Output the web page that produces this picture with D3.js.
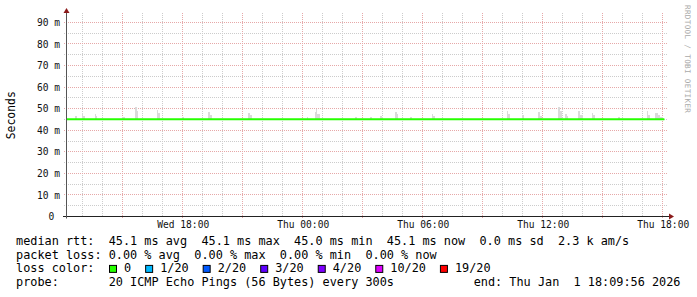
<!DOCTYPE html>
<html>
<head>
<meta charset="utf-8">
<script src="https://cdn.jsdelivr.net/npm/d3@7"></script>
<style>
  body { margin: 0; background: #fff; }
  svg { display: block; font-family: "DejaVu Sans Mono", monospace; }
  .pre { white-space: pre; }
</style>
</head>
<body>
<div id="vis"></div>
<script>
////////////////////////////////////////
//////////////// Data //////////////////
////////////////////////////////////////

const timeStart = "2025-12-31T12:09:56";
const timeEnd = "2026-01-01T18:09:56";

// median rtt (ms)
const medianTimes = ["2025-12-31T12:10", "2026-01-01T18:05"];
const medianValues = [45.1, 45.1];

// smoke spikes above the median: [from, to, top ms]
const smoke = [
  ["2025-12-31T12:37", "2025-12-31T12:44", 46.6],
  ["2025-12-31T12:57", "2025-12-31T13:00", 48.0],
  ["2025-12-31T13:00", "2025-12-31T13:06", 46.6],
  ["2025-12-31T13:37", "2025-12-31T13:41", 47.5],
  ["2025-12-31T13:41", "2025-12-31T13:44", 46.6],
  ["2025-12-31T14:58", "2025-12-31T15:06", 46.1],
  ["2025-12-31T15:36", "2025-12-31T15:42", 50.8],
  ["2025-12-31T15:42", "2025-12-31T15:46", 48.8],
  ["2025-12-31T16:43", "2025-12-31T16:47", 49.2],
  ["2025-12-31T16:47", "2025-12-31T16:52", 48.0],
  ["2025-12-31T17:57", "2025-12-31T18:04", 46.1],
  ["2025-12-31T19:16", "2025-12-31T19:21", 48.5],
  ["2025-12-31T19:21", "2025-12-31T19:28", 47.0],
  ["2025-12-31T21:15", "2025-12-31T21:22", 48.0],
  ["2025-12-31T21:22", "2025-12-31T21:28", 47.0],
  ["2026-01-01T00:12", "2026-01-01T00:15", 46.1],
  ["2026-01-01T00:37", "2026-01-01T00:44", 48.5],
  ["2026-01-01T00:41", "2026-01-01T00:43", 49.9],
  ["2026-01-01T00:44", "2026-01-01T00:52", 47.5],
  ["2026-01-01T02:37", "2026-01-01T02:42", 46.1],
  ["2026-01-01T03:22", "2026-01-01T03:28", 46.1],
  ["2026-01-01T03:52", "2026-01-01T03:58", 46.6],
  ["2026-01-01T03:58", "2026-01-01T04:01", 46.1],
  ["2026-01-01T04:37", "2026-01-01T04:42", 48.5],
  ["2026-01-01T04:42", "2026-01-01T04:46", 47.5],
  ["2026-01-01T05:22", "2026-01-01T05:27", 46.1],
  ["2026-01-01T06:28", "2026-01-01T06:31", 47.5],
  ["2026-01-01T06:31", "2026-01-01T06:36", 46.6],
  ["2026-01-01T10:13", "2026-01-01T10:16", 48.9],
  ["2026-01-01T10:16", "2026-01-01T10:22", 47.5],
  ["2026-01-01T10:58", "2026-01-01T11:04", 47.0],
  ["2026-01-01T11:46", "2026-01-01T11:52", 48.5],
  ["2026-01-01T11:52", "2026-01-01T11:58", 46.6],
  ["2026-01-01T12:46", "2026-01-01T12:52", 50.8],
  ["2026-01-01T12:52", "2026-01-01T12:58", 48.9],
  ["2026-01-01T13:07", "2026-01-01T13:13", 47.5],
  ["2026-01-01T13:13", "2026-01-01T13:16", 46.6],
  ["2026-01-01T13:46", "2026-01-01T13:52", 48.9],
  ["2026-01-01T13:52", "2026-01-01T14:00", 47.0],
  ["2026-01-01T14:28", "2026-01-01T14:32", 48.0],
  ["2026-01-01T14:32", "2026-01-01T14:37", 47.0],
  ["2026-01-01T15:46", "2026-01-01T15:52", 46.1],
  ["2026-01-01T17:13", "2026-01-01T17:16", 48.9],
  ["2026-01-01T17:16", "2026-01-01T17:22", 47.0],
  ["2026-01-01T17:37", "2026-01-01T17:46", 48.0],
  ["2026-01-01T17:46", "2026-01-01T17:52", 47.0],
  ["2026-01-01T17:52", "2026-01-01T18:01", 46.1],
];

const smokeBase = 45.0;
const yMax = 93.9;

const statsRows = [
  "median rtt:  45.1 ms avg  45.1 ms max  45.0 ms min  45.1 ms now  0.0 ms sd  2.3 k am/s",
  "packet loss: 0.00 % avg  0.00 % max  0.00 % min  0.00 % now",
  "loss color:",
  "probe:       20 ICMP Echo Pings (56 Bytes) every 300s",
];
const endLabel = "end: Thu Jan  1 18:09:56 2026";

const lossLabels = ["0", "1/20", "2/20", "3/20", "4/20", "10/20", "19/20"];
const lossColors = ["#26ff00", "#00b8ff", "#0059ff", "#5e00ff", "#7e00ff", "#dd00ff", "#ff0000"];

////////////////////////////////////////
/////////////// Options ////////////////
////////////////////////////////////////

const options = {
  width: 697,
  height: 297,
  left: 66,
  right: 666,
  top: 14,
  bottom: 216.5,
  grid: "#cccccc",
  mgrid: "#e6a8a8",
  axis: "#555555",
  arrow: "#8b1a1a",
  smoke: "#dadada",
};

const parse = (s) => new Date(s);
const px = (v) => Math.floor(v) + 0.5;

////////////////////////////////////////
////////////// SVG Setup ///////////////
////////////////////////////////////////

const svg = d3
  .select("#vis")
  .append("svg")
  .attr("width", options.width)
  .attr("height", options.height);

svg.append("rect").attr("width", options.width).attr("height", options.height).attr("fill", "#fff");

////////////////////////////////////////
////////////// Scales //////////////////
////////////////////////////////////////

const x = d3
  .scaleTime()
  .domain([parse(timeStart), parse(timeEnd)])
  .range([options.left, options.right]);

const y = d3.scaleLinear().domain([0, yMax]).range([options.bottom, options.top]);

////////////////////////////////////////
//////////////// Grid //////////////////
////////////////////////////////////////

const grid = svg.append("g").attr("stroke-width", 1).attr("stroke-dasharray", "1,1");

const [t0, t1] = x.domain();
const minorX = d3.timeHour.every(1).range(t0, t1).filter((d) => d.getHours() % 3 !== 0);
const majorX = d3.timeHour.every(3).range(t0, t1);
const minorY = y.ticks(20).filter((d) => d % 10 !== 0);
const majorY = y.ticks(10).filter((d) => d > 0);

grid.selectAll(".gx").data(minorX).join("line")
  .attr("x1", (d) => px(x(d))).attr("x2", (d) => px(x(d)))
  .attr("y1", options.top - 1).attr("y2", options.bottom)
  .attr("stroke", options.grid);

grid.selectAll(".gy").data(minorY).join("line")
  .attr("x1", options.left - 2).attr("x2", options.right + 2)
  .attr("y1", (d) => px(y(d))).attr("y2", (d) => px(y(d)))
  .attr("stroke", options.grid);

grid.selectAll(".mx").data(majorX).join("line")
  .attr("x1", (d) => px(x(d))).attr("x2", (d) => px(x(d)))
  .attr("y1", options.top - 1).attr("y2", options.bottom + 2)
  .attr("stroke", options.mgrid);

grid.selectAll(".my").data(majorY).join("line")
  .attr("x1", options.left - 2).attr("x2", options.right + 2)
  .attr("y1", (d) => px(y(d))).attr("y2", (d) => px(y(d)))
  .attr("stroke", options.mgrid);

////////////////////////////////////////
/////////////// Marks //////////////////
////////////////////////////////////////

svg.append("g").selectAll("rect").data(smoke).join("rect")
  .attr("x", (d) => x(parse(d[0])))
  .attr("width", (d) => x(parse(d[1])) - x(parse(d[0])))
  .attr("y", (d) => y(d[2]))
  .attr("height", (d) => y(smokeBase) - y(d[2]))
  .attr("fill", options.smoke)
  .attr("shape-rendering", "crispEdges");

const median = medianTimes.map((t, i) => ({ t: parse(t), v: medianValues[i] }));

svg.append("path")
  .datum(median)
  .attr("d", d3.line().x((d) => x(d.t)).y((d) => y(d.v)))
  .attr("fill", "none")
  .attr("stroke", lossColors[0])
  .attr("stroke-width", 2);

////////////////////////////////////////
//////////////// Axis //////////////////
////////////////////////////////////////

const xAxis = svg.append("g")
  .attr("transform", `translate(0,${options.bottom})`)
  .call(d3.axisBottom(x).ticks(d3.timeHour.every(6)).tickFormat(d3.timeFormat("%a %H:%M")).tickSize(0));
xAxis.select(".domain").remove();
xAxis.selectAll(".tick>text")
  .attr("dy", 0).attr("y", 11.8)
  .attr("font-family", "DejaVu Sans Mono").attr("font-size", 9.6).attr("fill", "#111");

const yAxis = svg.append("g")
  .attr("transform", `translate(60,0)`)
  .call(d3.axisLeft(y).tickValues(y.ticks(10)).tickFormat((d) => (d === 0 ? "0 " : `${d} m`)).tickSize(0).tickPadding(0));
yAxis.select(".domain").remove();
yAxis.selectAll(".tick>text")
  .classed("pre", true)
  .attr("font-family", "DejaVu Sans Mono").attr("font-size", 9.6).attr("fill", "#111");

// axis lines + arrows
svg.append("line")
  .attr("x1", options.left - 3).attr("x2", options.right + 4)
  .attr("y1", options.bottom).attr("y2", options.bottom)
  .attr("stroke", "#222");
svg.append("line")
  .attr("x1", options.left + 0.5).attr("x2", options.left + 0.5)
  .attr("y1", options.bottom + 2).attr("y2", options.top - 2)
  .attr("stroke", options.axis);

svg.append("path")
  .attr("d", `M${options.right + 3},${options.bottom - 3}L${options.right + 8},${options.bottom}L${options.right + 3},${options.bottom + 3}Z`)
  .attr("fill", options.arrow);
svg.append("path")
  .attr("d", `M${options.left - 2.5},${options.top - 1}L${options.left + 0.5},${options.top - 6}L${options.left + 3.5},${options.top - 1}Z`)
  .attr("fill", options.arrow);

svg.append("text")
  .attr("transform", `translate(14.5,${(options.top + options.bottom) / 2}) rotate(-90)`)
  .attr("text-anchor", "middle")
  .attr("font-size", 11.4)
  .text("Seconds");

// watermark
svg.append("text")
  .attr("transform", "translate(685,5) rotate(90)")
  .attr("font-size", 7.6)
  .attr("letter-spacing", 0.35)
  .attr("fill", "#a9a9a9")
  .text("RRDTOOL / TOBI OETIKER");

////////////////////////////////////////
/////////////// Legend /////////////////
////////////////////////////////////////

const legend = svg.append("g").attr("font-size", 11.85).attr("fill", "#000");
const rowY = (i) => 245 + i * 13.7;

legend.selectAll(".row").data(statsRows).join("text")
  .classed("pre", true)
  .attr("x", 16)
  .attr("y", (d, i) => rowY(i))
  .text((d) => d);

legend.append("text").attr("x", 680.5).attr("y", rowY(3))
  .attr("text-anchor", "end").classed("pre", true).text(endLabel);

let lx = 124;
lossLabels.forEach((lab, i) => {
  legend.append("rect")
    .attr("x", lx - 14.5).attr("y", rowY(2) - 7)
    .attr("width", 7).attr("height", 7)
    .attr("fill", lossColors[i]).attr("stroke", "#000");
  const t = legend.append("text").attr("x", lx).attr("y", rowY(2)).text(lab);
  lx += t.node().getComputedTextLength() + 29.0;
});
</script>
</body>
</html>
